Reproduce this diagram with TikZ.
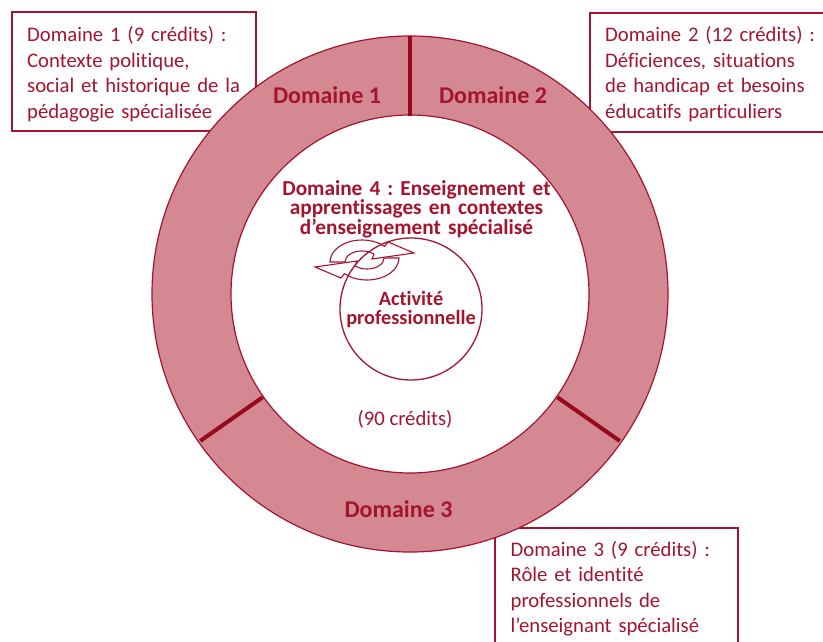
\documentclass[tikz,border=0pt]{standalone}
\usepackage{fontspec}
\setmainfont{Carlito}[Ligatures={NoCommon}]
\frenchspacing
\definecolor{dred}{RGB}{163,20,46}
\definecolor{ringfill}{RGB}{212,136,146}
\definecolor{divred}{RGB}{150,10,30}
\tikzset{
  boxline/.style={draw=dred,line width=1.3pt},
  boxtext/.style={anchor=base west,inner sep=0pt,text width=300pt,align=left,text=dred,font=\fontsize{20.7}{25.5}\selectfont},
  ringlabel/.style={anchor=base,inner sep=0pt,text=dred,font=\bfseries\fontsize{24}{28}\selectfont},
  divider/.style={draw=divred,line width=4pt},
  circarrow/.style={draw=dred,line width=1.1pt,line join=miter},
}
\begin{document}
\begin{tikzpicture}[x=1pt,y=-1pt]
\useasboundingbox (0,0) rectangle (823,642);
\clip (0,0) rectangle (823,642);
% boxes (borders behind the ring)
\draw[boxline] (12,12) rectangle (256,131);
\draw[boxline] (590,13) rectangle (840,132);
\draw[boxline] (495,528) rectangle (738,660);
% ring
\coordinate (c) at (410,294);
\fill[ringfill,even odd rule] (c) circle (258) (c) circle (179);
\draw[dred,line width=1.2pt] (c) circle (258);
\draw[dred,line width=1.2pt] (c) circle (179);
% dividers
\draw[divider] (410,36) -- (410,116);
\draw[divider] (262.6,397.3) -- (200.3,440.9);
\draw[divider] (557.4,397.3) -- (619.7,440.9);
% ring labels
\node[ringlabel] (d1) at (327,104) {Domaine 1};
\node[ringlabel] (d2) at (493,104) {Domaine 2};
\node[ringlabel] (d3) at (398.5,517) {Domaine 3};
% domaine 4
\node[anchor=base,inner sep=0pt,text width=280pt,align=center,text=dred,font=\bfseries\fontsize{21.3}{18.4}\selectfont] (d4) at (416.5,195)
  {Domaine 4 : Enseignement et\\apprentissages en contextes\\d’enseignement spécialisé};
% activity circle
\node[circle,draw=dred,line width=1.3pt,minimum size=142pt,inner sep=0pt,align=center,text=dred,font=\bfseries\fontsize{20.3}{19}\selectfont] (act) at (411,309) {Activité\\professionnelle};
% circular arrows
\draw[circarrow] (330,262) arc[start angle=180,end angle=315,x radius=32,y radius=22]
  -- (388,242) -- (414,253) -- (372,259) -- (374,254.2)
  arc[start angle=315,end angle=180,x radius=17,y radius=11] -- cycle;
\begin{scope}[rotate around={180:(364.5,260)}]
\draw[circarrow] (330,262) arc[start angle=180,end angle=315,x radius=32,y radius=22]
  -- (388,242) -- (414,253) -- (372,259) -- (374,254.2)
  arc[start angle=315,end angle=180,x radius=17,y radius=11] -- cycle;
\end{scope}
% credits
\node[anchor=base,inner sep=0pt,text=dred,font=\fontsize{20.7}{25.5}\selectfont] (tot) at (405,425) {(90 crédits)};
% box texts
\node[boxtext] (b1) at (27,41.7) {Domaine 1 (9 crédits) :\\Contexte politique,\\social et historique de la\\pédagogie spécialisée};
\node[boxtext] (b2) at (605,41.7) {Domaine 2 (12 crédits) :\\Déficiences, situations\\de handicap et besoins\\éducatifs particuliers};
\node[boxtext] (b3) at (510.5,556) {Domaine 3 (9 crédits) :\\Rôle et identité\\professionnels de\\l’enseignant spécialisé};
\end{tikzpicture}
\end{document}
